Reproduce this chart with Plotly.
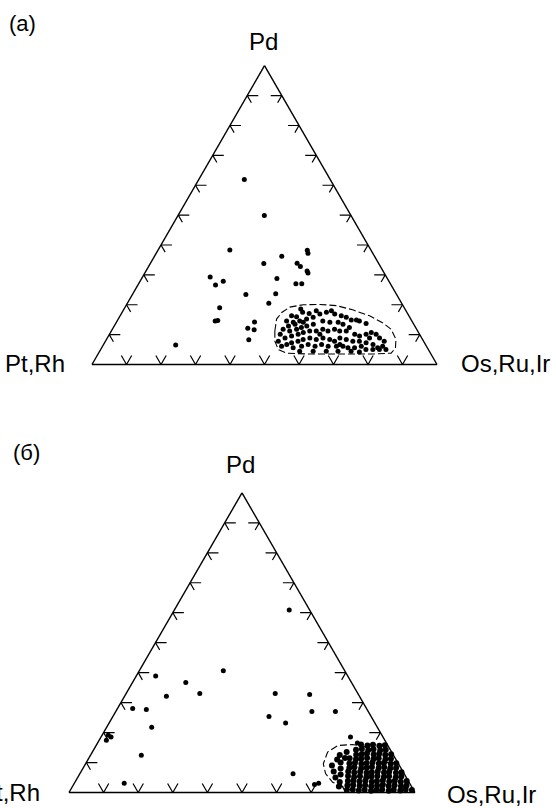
import plotly.graph_objects as go

# ---------------- DATA (at.%, Pd / Pt+Rh / Os+Ru+Ir) ----------------
# Diagram (a): scattered analyses
A_PD = [61.9, 49.9, 38.3, 36.2, 38.2, 37.2, 33.8, 33.9, 32.8, 31.3, 30.6, 29.3, 26.6, 27.9,
        28.8, 27.0, 27.0, 23.4, 23.7, 20.5, 19.0, 14.6, 14.7, 14.2, 12.1, 11.6, 8.3, 6.5]
A_PT = [24.9, 25.1, 40.9, 26.9, 18.5, 18.8, 33.3, 23.6, 23.2, 22.0, 22.1, 51.1, 50.9, 48.0,
        32.0, 27.4, 25.7, 43.7, 34.9, 38.5, 53.5, 57.0, 56.2, 45.8, 48.8, 47.2, 50.4, 72.5]
A_OS = [13.2, 25.0, 20.8, 36.9, 43.3, 44.0, 32.9, 42.5, 44.0, 46.7, 47.3, 19.6, 22.5, 24.1,
        39.2, 45.6, 47.3, 32.9, 41.4, 41.0, 27.5, 28.4, 29.1, 40.0, 39.1, 41.2, 41.3, 21.0]

# Diagram (a): analyses inside the dashed field
A_FIELD_PD = [18.6, 17.5, 16.3, 16.0, 14.6, 14.1, 14.6, 15.2, 15.8, 16.9, 17.5, 18.0, 16.9, 16.3,
              15.8, 14.9, 14.9, 14.6, 13.7, 14.6, 14.1, 14.1, 13.5, 13.5, 12.9, 12.4, 11.8, 11.2,
              11.8, 10.1, 8.9, 9.5, 10.1, 10.7, 11.2, 11.2, 11.8, 11.2, 11.8, 11.2, 11.2, 12.4,
              10.1, 9.5, 10.1, 10.7, 10.1, 8.9, 7.8, 6.1, 5.6, 6.7, 7.3, 7.8, 7.8, 8.4, 8.9, 7.8,
              8.4, 8.9, 8.4, 8.9, 8.4, 7.8, 7.3, 6.7, 6.1, 5.6, 6.1, 6.7, 6.1, 6.7, 6.1, 6.1, 6.1,
              5.6, 5.6, 6.1, 5.0, 5.0, 5.0, 5.0, 4.4, 4.4, 4.4, 4.4, 4.4, 4.2, 14.1, 17.1, 18.0,
              7.8, 12.9, 8.9, 6.7, 10.1, 13.5]
A_FIELD_PT = [30.2, 30.2, 34.0, 32.7, 36.3, 34.6, 32.5, 30.2, 28.0, 25.5, 23.3, 21.6, 21.2, 19.6,
              18.4, 17.4, 15.9, 15.2, 13.7, 25.8, 24.0, 21.6, 20.5, 29.1, 31.3, 33.1, 34.8, 37.1,
              38.7, 40.4, 39.6, 37.4, 35.2, 33.4, 31.3, 29.4, 27.2, 26.0, 23.8, 22.6, 20.7, 19.2,
              18.8, 17.7, 15.5, 13.7, 12.6, 12.2, 11.4, 12.7, 14.4, 15.2, 16.9, 18.6, 20.5, 22.1,
              23.7, 25.8, 26.9, 28.6, 30.8, 32.4, 34.6, 36.4, 38.5, 40.2, 42.0, 38.9, 36.2, 34.0,
              32.3, 30.1, 28.5, 26.1, 24.2, 23.0, 21.1, 18.9, 18.1, 16.1, 14.2, 12.3, 37.6, 33.7,
              29.9, 26.5, 22.7, 20.4, 31.7, 28.5, 26.0, 42.1, 36.6, 15.1, 24.8, 28.9, 34.4]
A_FIELD_OS = [51.2, 52.3, 49.7, 51.3, 49.1, 51.3, 52.9, 54.6, 56.2, 57.6, 59.2, 60.4, 61.9, 64.1,
              65.8, 67.7, 69.2, 70.2, 72.6, 59.6, 61.9, 64.3, 66.0, 57.4, 55.8, 54.5, 53.4, 51.7,
              49.5, 49.5, 51.5, 53.1, 54.7, 55.9, 57.5, 59.4, 61.0, 62.8, 64.4, 66.2, 68.1, 68.4,
              71.1, 72.8, 74.4, 75.6, 77.3, 78.9, 80.8, 81.2, 80.0, 78.1, 75.8, 73.6, 71.7, 69.5,
              67.4, 66.4, 64.7, 62.5, 60.8, 58.7, 57.0, 55.8, 54.2, 53.1, 51.9, 55.5, 57.7, 59.3,
              61.6, 63.2, 65.4, 67.8, 69.7, 71.4, 73.3, 75.0, 76.9, 78.9, 80.8, 82.7, 58.0, 61.9,
              65.7, 69.1, 72.9, 75.4, 54.2, 54.4, 56.0, 50.1, 50.5, 76.0, 68.5, 61.0, 52.1]

# Diagram (a): dashed field outline
A_OUT_PD = [11.2, 15.2, 17.4, 19.2, 20.0, 20.1, 19.7, 18.3, 16.3, 14.0, 11.8, 8.4, 5.5, 3.8,
            3.5, 3.5, 3.5, 3.8, 5.0, 7.8, 11.2]
A_OUT_PT = [41.4, 38.9, 36.3, 33.1, 28.8, 23.9, 19.3, 15.3, 11.4, 8.8, 7.4, 7.7, 9.3, 11.4,
            16.9, 25.6, 35.2, 41.7, 43.5, 43.1, 41.4]
A_OUT_OS = [47.4, 45.9, 46.3, 47.7, 51.2, 56.0, 61.0, 66.4, 72.3, 77.2, 80.8, 83.9, 85.2, 84.8,
            79.6, 70.9, 61.3, 54.5, 51.5, 49.1, 47.4]

# Diagram (б): scattered analyses
B_PD = [60.9, 40.6, 38.9, 36.7, 33.0, 32.1, 33.0, 32.7, 28.0, 27.7, 27.0, 27.0, 25.4, 23.2,
        21.8, 19.1, 18.5, 17.4, 12.4, 3.1, 6.3, 2.7, 3.1, 18.5, 16.5]
B_PT = [5.9, 35.1, 55.5, 47.9, 45.7, 55.8, 23.9, 14.1, 67.6, 63.8, 16.3, 9.5, 29.5, 25.8,
        65.2, 79.1, 78.6, 80.5, 72.9, 82.5, 32.1, 27.7, 26.3, 9.4, 8.4]
B_OS = [33.2, 24.3, 5.6, 15.4, 21.3, 12.1, 43.1, 53.2, 4.4, 8.5, 56.7, 63.5, 45.1, 51.0,
        13.0, 1.8, 2.9, 2.1, 14.7, 14.4, 61.6, 69.6, 70.6, 72.1, 75.1]

# Diagram (б): analyses of the Os-Ru-Ir-rich field
B_FIELD_PD = [12.5, 11.0, 9.0, 7.0, 5.0, 3.5, 10.0, 8.0, 6.0, 13.5, 11.5, 2.0,
              0.8, 1.0, 0.7, 0.9, 0.6, 1.0, 0.8, 0.6, 0.9, 0.7, 1.0, 0.8,
              2.3, 2.1, 2.4, 2.2, 2.5, 2.3, 2.1, 2.4, 2.2, 2.5, 2.3,
              3.8, 3.6, 3.9, 3.7, 4.0, 3.8, 3.6, 3.9, 3.7, 4.0, 3.8,
              5.3, 5.1, 5.4, 5.2, 5.5, 5.3, 5.1, 5.4, 5.2, 5.5,
              6.8, 6.6, 6.9, 6.7, 7.0, 6.8, 6.6, 6.9, 6.7, 7.0,
              8.3, 8.1, 8.4, 8.2, 8.5, 8.3, 8.1, 8.4, 8.2,
              9.8, 9.6, 9.9, 9.7, 10.0, 9.8, 9.6, 9.9, 9.7,
              11.3, 11.1, 11.4, 11.2, 11.5, 11.3, 11.1, 11.4,
              12.8, 12.6, 12.9, 12.7, 13.0, 12.8, 12.6,
              14.3, 14.1, 14.4, 14.2, 14.5, 14.3,
              15.8, 15.6, 15.9, 15.7, 16.0]
B_FIELD_PT = [15.5, 17.0, 19.5, 20.0, 20.5, 20.0, 16.5, 17.5, 18.5, 13.0, 14.5, 21.0,
              0.5, 2.2, 3.9, 5.7, 7.3, 9.0, 10.8, 12.4, 14.1, 15.9, 17.5, 19.3,
              1.3, 3.0, 4.7, 6.5, 8.1, 9.8, 11.6, 13.2, 14.9, 16.6, 18.4,
              0.5, 2.3, 3.9, 5.6, 7.3, 9.1, 10.7, 12.4, 14.2, 15.8, 17.5,
              1.3, 3.0, 4.8, 6.4, 8.1, 9.9, 11.5, 13.2, 15.0, 16.6,
              0.5, 2.2, 4.0, 5.6, 7.3, 9.1, 10.7, 12.4, 14.2, 15.8,
              1.3, 3.1, 4.7, 6.4, 8.2, 9.8, 11.5, 13.3, 14.9,
              0.5, 2.2, 4.0, 5.6, 7.3, 9.1, 10.7, 12.4, 14.1,
              1.3, 3.0, 4.8, 6.4, 8.1, 9.9, 11.5, 13.2,
              0.5, 2.3, 3.9, 5.6, 7.4, 9.0, 10.7,
              1.3, 3.0, 4.8, 6.4, 8.1, 9.9,
              0.8, 2.5, 4.2, 5.9, 7.6]
B_FIELD_OS = [72.0, 72.0, 71.5, 73.0, 74.5, 76.5, 73.5, 74.5, 75.5, 73.5, 74.0, 77.0,
              98.7, 96.8, 95.4, 93.4, 92.1, 90.0, 88.4, 87.0, 85.0, 83.4, 81.5, 79.9,
              96.4, 94.9, 92.9, 91.3, 89.4, 87.9, 86.3, 84.4, 82.9, 80.9, 79.3,
              95.7, 94.1, 92.2, 90.7, 88.7, 87.1, 85.7, 83.7, 82.1, 80.2, 78.7,
              93.4, 91.9, 89.8, 88.4, 86.4, 84.8, 83.4, 81.4, 79.8, 77.9,
              92.7, 91.2, 89.1, 87.7, 85.7, 84.1, 82.7, 80.7, 79.1, 77.2,
              90.4, 88.8, 86.9, 85.4, 83.3, 81.9, 80.4, 78.3, 76.9,
              89.7, 88.2, 86.1, 84.7, 82.7, 81.1, 79.7, 77.7, 76.2,
              87.4, 85.9, 83.8, 82.4, 80.4, 78.8, 77.4, 75.4,
              86.7, 85.1, 83.2, 81.7, 79.6, 78.2, 76.7,
              84.4, 82.9, 80.8, 79.4, 77.4, 75.8,
              83.4, 81.9, 79.9, 78.4, 76.4]

# Diagram (б): dashed field outline (open on the right)
B_OUT_PD = [13.5, 15.2, 16.0, 15.7, 13.5, 9.6, 6.3, 3.4, 1.8, 0.7]
B_OUT_PT = [4.7, 6.5, 10.1, 14.4, 18.5, 21.7, 22.7, 22.1, 19.8, 17.8]
B_OUT_OS = [81.8, 78.3, 73.9, 69.9, 68.0, 68.7, 71.0, 74.5, 78.4, 81.5]

# Tick positions along every side (%)
TICKS = [10, 20, 30, 40, 50, 60, 70, 80, 90]
CORNER_LABELS = ["Pd", "Pt,Rh", "Os,Ru,Ir"]

# ---------------- STYLE / LAYOUT ----------------
W, H = 556, 808
FONT = "Liberation Sans, Arial, Helvetica, sans-serif"
SHAFT, BARB, ARM = 3.2, 2.4, 3.0   # tick stub lengths (in % units)


def tick_path():
    a, b, c = [], [], []

    def add(*pts):
        for p in pts:
            a.append(p[0]); b.append(p[1]); c.append(p[2])
        a.append(None); b.append(None); c.append(None)

    for t in TICKS:
        # left side (Os = 0): horizontal shaft + barb parallel to right side
        add((t, 100 - t - SHAFT, SHAFT), (t, 100 - t, 0), (t - BARB, 100 - t, BARB))
        # right side (Pt = 0): horizontal shaft + barb parallel to left side
        add((t, SHAFT, 100 - t - SHAFT), (t, 0, 100 - t), (t - BARB, BARB, 100 - t))
        # bottom side (Pd = 0): V
        add((ARM, 100 - t, t - ARM), (0, 100 - t, t), (ARM, 100 - t - ARM, t))
    return a, b, c


def px_domain(x0, x1, ybase):
    h = (x1 - x0) * 3 ** 0.5 / 2
    return dict(x=[x0 / W, x1 / W], y=[1 - ybase / H, 1 - (ybase - h) / H])


axis = dict(showline=True, linecolor="black", linewidth=1.4, showgrid=False,
            ticks="", showticklabels=False, title=dict(text=""), min=0)

fig = go.Figure()
for sub, pd_, pt_, os_, fpd, fpt, fos, opd, opt, oos, fsize in [
    ("ternary", A_PD, A_PT, A_OS, A_FIELD_PD, A_FIELD_PT, A_FIELD_OS,
     A_OUT_PD, A_OUT_PT, A_OUT_OS, 5),
    ("ternary2", B_PD, B_PT, B_OS, B_FIELD_PD, B_FIELD_PT, B_FIELD_OS,
     B_OUT_PD, B_OUT_PT, B_OUT_OS, 6),
]:
    ta, tb, tc = tick_path()
    fig.add_trace(go.Scatterternary(a=ta, b=tb, c=tc, mode="lines", subplot=sub,
                                    line=dict(color="black", width=1.2), cliponaxis=False,
                                    hoverinfo="skip", showlegend=False))
    fig.add_trace(go.Scatterternary(a=opd, b=opt, c=oos, mode="lines", subplot=sub,
                                    line=dict(color="black", width=1.1, dash="7px,3px"),
                                    cliponaxis=False, hoverinfo="skip", showlegend=False))
    fig.add_trace(go.Scatterternary(a=fpd, b=fpt, c=fos, mode="markers", subplot=sub,
                                    marker=dict(color="black", size=fsize), cliponaxis=False,
                                    showlegend=False))
    fig.add_trace(go.Scatterternary(a=pd_, b=pt_, c=os_, mode="markers", subplot=sub,
                                    marker=dict(color="black", size=5), cliponaxis=False,
                                    showlegend=False))


def ann(text, x, y, xanchor, size):
    return dict(text=text, x=x / W, y=1 - y / H, xref="paper", yref="paper",
                xanchor=xanchor, yanchor="middle", showarrow=False,
                font=dict(family=FONT, size=size, color="black"))


annotations = [
    ann("(a)", 7, 23, "left", 22),
    ann(CORNER_LABELS[0], 263, 41, "center", 24),
    ann(CORNER_LABELS[1], 67, 363, "right", 24),
    ann(CORNER_LABELS[2], 459, 364, "left", 24),
    ann("(б)", 11, 452, "left", 22),
    ann(CORNER_LABELS[0], 240, 465, "center", 24),
    ann(CORNER_LABELS[1], 42, 792, "right", 24),
    ann(CORNER_LABELS[2], 445, 794, "left", 24),
]

fig.update_layout(
    width=W, height=H,
    margin=dict(l=0, r=0, t=0, b=0),
    paper_bgcolor="white", plot_bgcolor="white",
    showlegend=False,
    ternary=dict(sum=100, bgcolor="white", domain=px_domain(92, 437, 364.5),
                 aaxis=axis, baxis=axis, caxis=axis),
    ternary2=dict(sum=100, bgcolor="white", domain=px_domain(69, 415, 792.5),
                  aaxis=axis, baxis=axis, caxis=axis),
    annotations=annotations,
    font=dict(family=FONT, color="black"),
)

fig.write_html("out.html", config={"displayModeBar": False},
               post_script="document.body.style.margin='0px';")
